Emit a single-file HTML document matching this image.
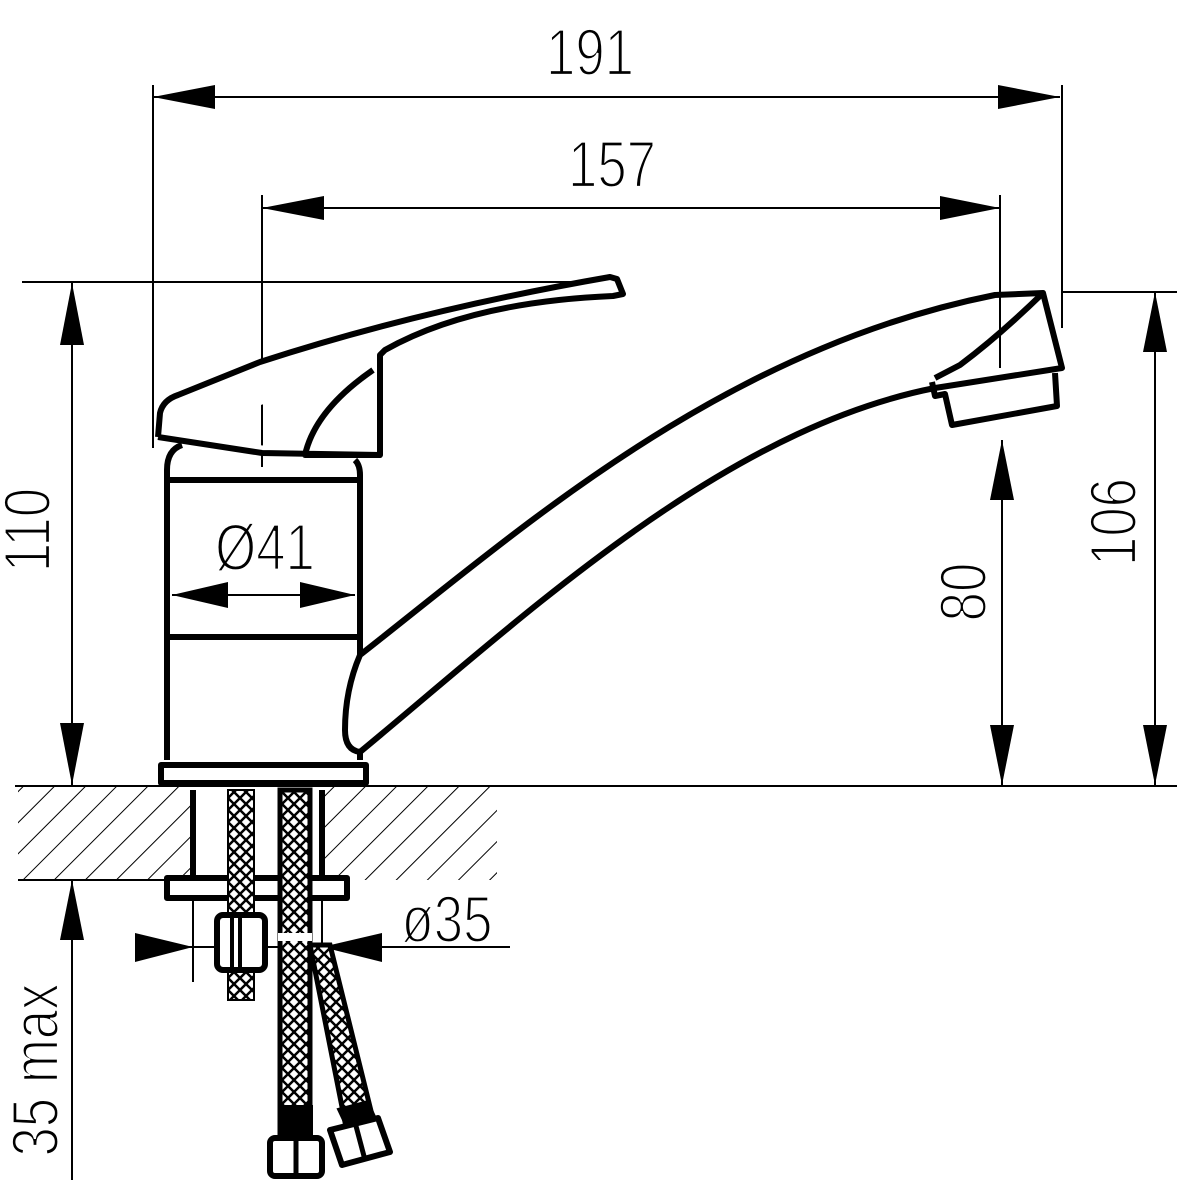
<!DOCTYPE html>
<html><head><style>html,body{margin:0;padding:0;background:#fff}svg{display:block}</style></head>
<body>
<svg width="1200" height="1200" viewBox="0 0 1200 1200" xmlns="http://www.w3.org/2000/svg">
<defs>
<pattern id="h" patternUnits="userSpaceOnUse" width="22" height="22" patternTransform="rotate(45)">
<line x1="0" y1="0" x2="0" y2="22" stroke="#000" stroke-width="2"/>
</pattern>
<pattern id="br" patternUnits="userSpaceOnUse" width="12" height="12">
<rect width="12" height="12" fill="#fff"/>
<path d="M0 6 L6 0 M6 12 L12 6 M6 0 L12 6 M0 6 L6 12" stroke="#000" stroke-width="2.5"/>
</pattern>
</defs>
<g font-family="Liberation Sans, sans-serif" font-size="66" fill="#000" stroke="#fff" stroke-width="2.2">
<text x="0" y="0" transform="translate(590,75) scale(0.8,1)" text-anchor="middle">191</text>
<text x="0" y="0" transform="translate(612,187) scale(0.8,1)" text-anchor="middle">157</text>
<text x="0" y="0" transform="translate(265,570) scale(0.8,1)" text-anchor="middle">Ø41</text>
<text x="0" y="0" transform="translate(447,942) scale(0.8,1)" text-anchor="middle">ø35</text>
<text x="0" y="0" transform="translate(50,530) rotate(-90) scale(0.8,1)" text-anchor="middle">110</text>
<text x="0" y="0" transform="translate(1136,522) rotate(-90) scale(0.8,1)" text-anchor="middle">106</text>
<text x="0" y="0" transform="translate(986,592) rotate(-90) scale(0.8,1)" text-anchor="middle">80</text>
<text x="0" y="0" transform="translate(58,1070) rotate(-90) scale(0.8,1)" text-anchor="middle">35 max</text>
</g>
<rect x="18" y="787" width="172" height="93" fill="url(#h)"/>
<rect x="322" y="787" width="175" height="93" fill="url(#h)"/>
<g stroke="#000" stroke-width="2" fill="none">
<line x1="153" y1="85" x2="153" y2="448"/>
<line x1="1062" y1="85" x2="1062" y2="328"/>
<line x1="153" y1="97" x2="1060" y2="97"/>
<line x1="262" y1="195" x2="262" y2="467"/>
<line x1="262" y1="208" x2="1000" y2="208"/>
<line x1="22" y1="282" x2="600" y2="282"/>
<line x1="72" y1="283" x2="72" y2="785"/>
<line x1="1062" y1="292" x2="1177" y2="292"/>
<line x1="1155" y1="292" x2="1155" y2="785"/>
<line x1="1002" y1="440" x2="1002" y2="785"/>
<line x1="15" y1="786" x2="1177" y2="786"/>
<line x1="18" y1="880" x2="165" y2="880"/>
<line x1="72" y1="880" x2="72" y2="1180"/>
<line x1="172" y1="595" x2="355" y2="595"/>
<line x1="135" y1="947" x2="510" y2="947"/>
<line x1="193" y1="898" x2="193" y2="982"/>
<line x1="322" y1="898" x2="322" y2="955"/>
</g>
<g fill="#000">
<path d="M153 97 L215 85 L215 109Z"/><path d="M1060 97 L998 85 L998 109Z"/>
<path d="M262 208 L324 196 L324 220Z"/><path d="M1000 208 L940 196 L940 220Z"/>
<path d="M72 283 L60 345 L84 345Z"/><path d="M72 785 L60 723 L84 723Z"/>
<path d="M1155 292 L1143 352 L1167 352Z"/><path d="M1155 785 L1143 725 L1167 725Z"/>
<path d="M1002 440 L990 500 L1014 500Z"/><path d="M1002 785 L990 725 L1014 725Z"/>
<path d="M72 880 L60 940 L84 940Z"/>
<path d="M172 595 L228 582 L228 608Z"/><path d="M355 595 L300 582 L300 608Z"/>
<path d="M193 947 L135 933 L135 962Z"/><path d="M322 947 L382 933 L382 962Z"/>
</g>
<g stroke="#000" stroke-width="6" fill="none" stroke-linejoin="round">
<path d="M167 760 L167 470 Q167 450 182 445 M355 460 Q360 465 360 475 L360 760"/>
<line x1="167" y1="480" x2="360" y2="480"/>
<line x1="167" y1="637" x2="360" y2="637"/>
<rect x="161" y="765" width="205" height="18" fill="#fff"/>
<path d="M158 437 L160 413 Q163 400 178 395 L260 362 Q420 310 610 277 L617 279 L623 294 L613 296 Q470 302 385 350 L380 355 L380 455 L305 455 Q315 410 373 370 M158 437 L262 453 L380 455" fill="#fff"/>
<path d="M360 655 C520 530 720 350 995 295 L1043 293 L1062 368 L935 388 C720 430 520 620 360 752 Q345 750 345 730 Q345 690 360 655" fill="#fff"/>
<path d="M1043 293 Q1000 335 960 365 L935 378"/>
<path d="M932 382 L935 396 L945 394 L952 425 L1057 406 L1055 373"/>
<line x1="1000" y1="195" x2="1000" y2="368" stroke-width="2"/>
<line x1="193" y1="790" x2="193" y2="877"/>
<line x1="322" y1="790" x2="322" y2="877"/>
<rect x="167" y="878" width="180" height="20" fill="#fff"/>
</g>
<rect x="228" y="790" width="26" height="210" fill="url(#br)" stroke="#000" stroke-width="2"/>
<rect x="217" y="915" width="48" height="55" rx="6" fill="#fff" stroke="#000" stroke-width="6"/>
<line x1="232" y1="918" x2="232" y2="968" stroke="#000" stroke-width="4"/>
<line x1="240" y1="918" x2="240" y2="968" stroke="#000" stroke-width="4"/>
<rect x="280" y="790" width="30" height="345" fill="url(#br)" stroke="#000" stroke-width="5"/>
<line x1="278" y1="937" x2="312" y2="937" stroke="#fff" stroke-width="8"/>
<path d="M310 945 L330 945 L372 1115 L345 1122Z" fill="url(#br)" stroke="#000" stroke-width="5"/>
<rect x="278" y="1105" width="35" height="35" fill="#000"/>
<rect x="270" y="1138" width="52" height="38" rx="5" fill="#fff" stroke="#000" stroke-width="6"/>
<line x1="296" y1="1140" x2="296" y2="1174" stroke="#000" stroke-width="5"/>
<path d="M340 1110 L367 1103 L375 1120 L348 1127Z" fill="#000" stroke="#000" stroke-width="5"/>
<path d="M330 1130 L378 1118 L390 1152 L342 1165Z" fill="#fff" stroke="#000" stroke-width="6" stroke-linejoin="round"/>
<line x1="356" y1="1126" x2="365" y2="1160" stroke="#000" stroke-width="5"/>
</svg>
</body></html>
